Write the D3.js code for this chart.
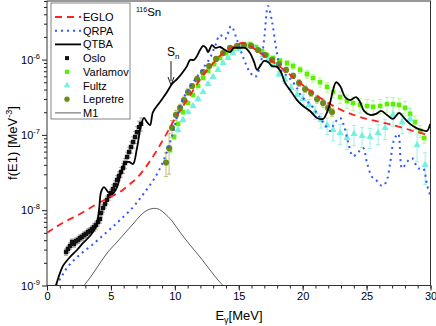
<!DOCTYPE html>
<html>
<head>
<meta charset="utf-8">
<script src="https://cdn.jsdelivr.net/npm/d3@7"></script>
<style>
  body { margin: 0; background: #fff; }
  svg { display: block; font-family: "Liberation Sans", Arial, sans-serif; }
</style>
</head>
<body>
<div id="chart"></div>
<script>
// theory curves (E in MeV, f in MeV^-3)
const egloE = [0, 1.25, 2.58, 3.91, 4.93, 5.71, 6.49, 7.04, 8.06, 9.08, 10.0, 10.95, 11.97, 12.75, 13.77, 14.55, 15.26, 15.88, 16.67, 18.23, 19.8, 20.81, 22.69, 24.49, 27.07, 29.73, 30];
const egloF = [5.0e-9, 6.8e-9, 8.9e-9, 1.21e-8, 1.5e-8, 1.75e-8, 2.23e-8, 2.68e-8, 4.5e-8, 8.6e-8, 1.63e-7, 2.9e-7, 5.4e-7, 8.0e-7, 1.22e-6, 1.47e-6, 1.66e-6, 1.52e-6, 1.22e-6, 8.0e-7, 4.9e-7, 3.6e-7, 2.28e-7, 1.73e-7, 1.35e-7, 1.0e-7, 9.8e-8];

const qrpaE = [0.7, 1.17, 1.56, 2.19, 2.82, 3.52, 4.15, 4.93, 5.71, 6.73, 7.43, 8.06, 8.61, 9.08, 9.47, 9.86, 10.17, 10.56, 11.03, 11.5, 12.21, 12.75, 13.15, 13.54, 13.93, 14.4, 14.87, 15.34, 15.88, 16.28, 16.67, 16.98, 17.29, 17.61, 17.92, 18.31, 18.86, 19.41, 19.95, 20.58, 21.21, 21.75, 22.14, 22.54, 22.93, 23.24, 23.55, 23.94, 24.34, 24.73, 25.04, 25.43, 25.82, 26.21, 26.53, 26.84, 27.15, 27.47, 27.78, 28.17, 28.56, 29.03, 29.42, 29.73, 29.97];
const qrpaF = [1.0e-9, 1.34e-9, 1.71e-9, 2.25e-9, 2.79e-9, 3.45e-9, 4.28e-9, 5.6e-9, 7.4e-9, 1.1e-8, 1.55e-8, 2.16e-8, 3.03e-8, 4.4e-8, 6.7e-8, 1.06e-7, 1.73e-7, 2.82e-7, 3.95e-7, 5.2e-7, 7.7e-7, 1.05e-6, 1.52e-6, 2.12e-6, 1.88e-6, 2.79e-6, 1.82e-6, 1.08e-6, 6.8e-7, 5.9e-7, 8.2e-7, 1.82e-6, 5.15e-6, 3.16e-6, 1.43e-6, 7.3e-7, 5.9e-7, 4.6e-7, 3.18e-7, 2.57e-7, 1.84e-7, 1.35e-7, 1.13e-7, 1.48e-7, 1.68e-7, 1.31e-7, 8.1e-8, 5.2e-8, 5.9e-8, 6.7e-8, 4.2e-8, 2.76e-8, 2.44e-8, 2.1e-8, 2.36e-8, 4.2e-8, 8.6e-8, 1.03e-7, 3.6e-8, 4.4e-8, 4.9e-8, 3.6e-8, 3.6e-8, 2.16e-8, 1.59e-8];

const qtbaE = [0.7, 1.02, 1.25, 1.8, 2.35, 2.82, 3.36, 3.83, 4.07, 4.23, 4.46, 4.77, 5.09, 5.48, 5.79, 6.1, 6.42, 6.73, 7.04, 7.36, 7.59, 7.82, 8.06, 8.29, 8.84, 9.39, 9.78, 10.17, 10.56, 10.95, 11.19, 11.5, 11.74, 11.97, 12.21, 12.44, 12.6, 12.91, 13.15, 13.54, 13.93, 14.32, 14.63, 15.1, 15.49, 15.88, 16.2, 16.43, 16.67, 16.98, 17.29, 17.61, 18.0, 18.31, 18.62, 19.01, 19.56, 20.03, 20.58, 21.13, 21.6, 21.91, 22.14, 22.38, 22.61, 22.93, 23.32, 23.71, 24.18, 24.49, 24.8, 25.27, 25.74, 26.14, 26.6, 27.07, 27.54, 27.93, 28.4, 28.87, 29.34, 29.73, 29.97];
const qtbaF = [1.0e-9, 1.47e-9, 1.82e-9, 2.39e-9, 2.96e-9, 3.67e-9, 4.54e-9, 5.98e-9, 1.01e-8, 1.75e-8, 2.03e-8, 1.75e-8, 1.64e-8, 2.03e-8, 3.12e-8, 4.24e-8, 4.37e-8, 4.11e-8, 6.7e-8, 1.35e-7, 1.68e-7, 1.48e-7, 1.35e-7, 2.01e-7, 2.73e-7, 3.71e-7, 4.74e-7, 5.5e-7, 6.6e-7, 8.2e-7, 9.9e-7, 9.9e-7, 1.12e-6, 1.34e-6, 1.52e-6, 1.43e-6, 1.26e-6, 1.56e-6, 1.43e-6, 1.47e-6, 1.34e-6, 1.26e-6, 1.43e-6, 1.43e-6, 1.43e-6, 1.22e-6, 9.3e-7, 7.3e-7, 8.2e-7, 9.6e-7, 9.3e-7, 8.2e-7, 8.0e-7, 6.8e-7, 4.9e-7, 3.95e-7, 2.9e-7, 2.42e-7, 2.08e-7, 1.68e-7, 1.63e-7, 2.01e-7, 2.65e-7, 3.95e-7, 5.0e-7, 4.46e-7, 3.18e-7, 2.9e-7, 3.18e-7, 2.73e-7, 2.08e-7, 1.84e-7, 1.9e-7, 2.08e-7, 1.84e-7, 1.63e-7, 1.96e-7, 1.68e-7, 1.4e-7, 1.24e-7, 1.16e-7, 1.13e-7, 1.4e-7];

const m1E = [2.9, 3.52, 4.15, 4.77, 5.48, 6.1, 6.73, 7.28, 7.75, 8.22, 8.69, 9.16, 9.78, 10.41, 11.19, 11.97, 12.75, 13.38, 13.77];
const m1F = [1.0e-9, 1.38e-9, 1.99e-9, 2.79e-9, 3.78e-9, 4.98e-9, 6.56e-9, 8.4e-9, 9.8e-9, 1.05e-8, 1.04e-8, 9.2e-9, 7.2e-9, 5.1e-9, 3.45e-9, 2.39e-9, 1.61e-9, 1.18e-9, 1.0e-9];

// experimental data (err = relative uncertainty)
const osloE = [1.49, 1.64, 1.8, 1.96, 2.11, 2.27, 2.43, 2.58, 2.74, 2.9, 3.05, 3.21, 3.36, 3.52, 3.68, 3.83, 3.99, 4.15, 4.23, 4.38, 4.54, 4.69, 4.85, 5.01, 5.16, 5.32, 5.48, 5.63, 5.79, 5.95, 6.1, 6.26, 6.42, 6.57, 6.73, 6.89, 7.04, 7.2, 7.36];
const osloF = [2.79e-9, 3.05e-9, 3.35e-9, 3.78e-9, 3.56e-9, 3.9e-9, 4.02e-9, 4.28e-9, 4.41e-9, 4.69e-9, 4.83e-9, 5.13e-9, 5.29e-9, 5.63e-9, 5.98e-9, 6.36e-9, 6.97e-9, 7.64e-9, 9.18e-9, 1.07e-8, 1.21e-8, 1.37e-8, 1.54e-8, 1.69e-8, 1.91e-8, 2.16e-8, 2.52e-8, 2.85e-8, 3.22e-8, 3.63e-8, 4.24e-8, 5.09e-8, 5.93e-8, 6.91e-8, 8.05e-8, 9.38e-8, 1.09e-7, 1.27e-7, 1.4e-7];
const osloErr = [0.1, 0.1, 0.1, 0.1, 0.1, 0.1, 0.1, 0.1, 0.1, 0.1, 0.1, 0.1, 0.1, 0.1, 0.12, 0.12, 0.12, 0.12, 0.12, 0.12, 0.12, 0.12, 0.12, 0.12, 0.14, 0.14, 0.14, 0.14, 0.15, 0.15, 0.15, 0.16, 0.16, 0.17, 0.17, 0.18, 0.18, 0.2, 0.2];

const varlE = [9.62, 9.94, 10.25, 10.64, 11.03, 11.42, 11.82, 12.21, 12.6, 13.07, 13.54, 14.01, 14.48, 14.95, 15.41, 15.88, 16.35, 16.82, 17.21, 17.68, 18.23, 18.78, 19.25, 19.8, 20.34, 20.81, 21.36, 21.91, 22.38, 22.93, 23.47, 23.94, 24.49, 25.04, 25.51, 26.06, 26.6, 27.07, 27.54, 28.01, 28.4, 28.79, 29.19, 29.5];
const varlF = [6.3e-8, 9.4e-8, 1.4e-7, 2.01e-7, 2.65e-7, 3.39e-7, 4.46e-7, 5.7e-7, 7.06e-7, 8.7e-7, 1.05e-6, 1.22e-6, 1.38e-6, 1.52e-6, 1.61e-6, 1.61e-6, 1.47e-6, 1.3e-6, 1.15e-6, 1.05e-6, 9.6e-7, 9.0e-7, 8.2e-7, 7.3e-7, 6.4e-7, 5.7e-7, 5.0e-7, 4.33e-7, 3.71e-7, 3.18e-7, 2.82e-7, 2.65e-7, 2.5e-7, 2.42e-7, 2.35e-7, 2.42e-7, 2.57e-7, 2.57e-7, 2.5e-7, 2.28e-7, 1.9e-7, 1.48e-7, 1.13e-7, 9.1e-8];
const varlErr = [0.08, 0.06, 0.05, 0.05, 0.04, 0.04, 0.04, 0.04, 0.04, 0.04, 0.04, 0.04, 0.04, 0.04, 0.04, 0.04, 0.05, 0.05, 0.06, 0.06, 0.08, 0.08, 0.1, 0.1, 0.12, 0.12, 0.14, 0.15, 0.16, 0.18, 0.2, 0.2, 0.22, 0.22, 0.22, 0.22, 0.22, 0.22, 0.22, 0.22, 0.2, 0.2, 0.18, 0.15];

const fultzE = [10.25, 10.64, 11.03, 11.42, 11.82, 12.21, 12.6, 12.99, 13.38, 13.77, 14.16, 14.55, 14.95, 15.34, 15.73, 16.12, 16.51, 16.9, 17.29, 17.68, 18.15, 18.62, 19.09, 19.56, 20.03, 20.5, 20.97, 21.44, 21.91, 22.38, 22.93, 23.47, 24.02, 24.65, 25.27, 25.9, 26.45, 27.07, 27.78, 28.4, 28.95, 29.58];
const fultzF = [1.16e-7, 1.58e-7, 2.01e-7, 2.42e-7, 3.0e-7, 3.71e-7, 4.74e-7, 5.9e-7, 7.3e-7, 9.0e-7, 1.05e-6, 1.22e-6, 1.38e-6, 1.47e-6, 1.52e-6, 1.47e-6, 1.34e-6, 1.15e-6, 9.9e-7, 8.5e-7, 6.4e-7, 5.4e-7, 4.2e-7, 3.39e-7, 3.0e-7, 2.5e-7, 2.01e-7, 1.58e-7, 1.35e-7, 1.16e-7, 1.06e-7, 9.1e-8, 1.03e-7, 9.7e-8, 9.4e-8, 1.06e-7, 1.24e-7, 1.84e-7, 1.48e-7, 1.63e-7, 7.3e-8, 4.0e-8];
const fultzErr = [0.06, 0.06, 0.05, 0.05, 0.05, 0.05, 0.05, 0.05, 0.05, 0.05, 0.05, 0.05, 0.05, 0.05, 0.05, 0.05, 0.05, 0.06, 0.06, 0.07, 0.08, 0.1, 0.12, 0.14, 0.16, 0.18, 0.2, 0.22, 0.25, 0.28, 0.3, 0.3, 0.3, 0.3, 0.3, 0.3, 0.3, 0.3, 0.3, 0.35, 0.4, 0.45];

const lepE = [9.31, 9.55, 9.78, 10.09, 10.41, 10.72, 11.03, 11.35, 11.74, 12.21, 12.68, 13.23, 13.77, 14.32, 14.87, 15.41, 15.96, 16.51, 17.06, 17.61, 18.15, 18.7, 19.25, 19.72, 20.19, 20.66, 21.13, 21.6, 21.99, 22.3];
const lepF = [4.3e-8, 6.7e-8, 1.24e-7, 1.84e-7, 2.28e-7, 2.9e-7, 3.71e-7, 4.46e-7, 5.5e-7, 6.8e-7, 8.2e-7, 1.02e-6, 1.22e-6, 1.43e-6, 1.52e-6, 1.56e-6, 1.52e-6, 1.34e-6, 1.15e-6, 9.9e-7, 8.7e-7, 7.3e-7, 6.1e-7, 4.9e-7, 4.07e-7, 3.6e-7, 3.0e-7, 2.65e-7, 2.28e-7, 2.01e-7];
const lepErr = [0.35, 0.55, 0.25, 0.15, 0.12, 0.1, 0.1, 0.08, 0.08, 0.08, 0.06, 0.06, 0.05, 0.05, 0.05, 0.05, 0.05, 0.05, 0.06, 0.06, 0.08, 0.08, 0.08, 0.1, 0.1, 0.1, 0.12, 0.12, 0.12, 0.12];

const xTicks = [0, 5, 10, 15, 20, 25, 30];
const yTicks = [1e-9, 1e-8, 1e-7, 1e-6];
const yTickExp = ["-9", "-8", "-7", "-6"];

const w = 436;
const h = 326;
const mLeft = 47, mRight = 430.5, mTop = 1, mBottom = 285.5;

const svg = d3.select("#chart").append("svg").attr("width", w).attr("height", h);

const x = d3.scaleLinear().domain([0, 30]).range([mLeft, mRight]);
const y = d3.scaleLog().domain([1e-9, 6e-6]).range([mBottom, mTop]);

svg.append("defs").append("clipPath").attr("id", "plot")
  .append("rect").attr("x", mLeft).attr("y", mTop).attr("width", mRight - mLeft).attr("height", mBottom - mTop);

// axes
const xAxis = svg.append("g").attr("transform", `translate(0,${mBottom})`)
  .call(d3.axisBottom(x).tickValues(xTicks).tickSize(5).tickSizeOuter(0).tickPadding(2));
svg.append("g").attr("transform", `translate(0,${mBottom})`)
  .call(d3.axisBottom(x).tickValues(d3.range(0, 31, 1)).tickSize(3).tickFormat(""));
xAxis.selectAll("text").attr("font-size", 11).attr("font-family", "Liberation Sans, Arial, sans-serif").attr("fill", "#000");

const minorY = [];
for (let p = -9; p <= -6; p++) {
  for (let k = 2; k <= 9; k++) {
    const v = k * Math.pow(10, p);
    if (v <= 6e-6) minorY.push(v);
  }
}
svg.append("g").attr("transform", `translate(${mLeft},0)`)
  .call(d3.axisLeft(y).tickValues(yTicks).tickSize(5).tickSizeOuter(0).tickFormat(""));
svg.append("g").attr("transform", `translate(${mLeft},0)`)
  .call(d3.axisLeft(y).tickValues(minorY).tickSize(3).tickSizeOuter(0).tickFormat(""));
svg.selectAll(".domain").remove();
svg.selectAll(".tick line").attr("stroke", "#222");

const yLab = svg.append("g").selectAll("text").data(yTicks).enter().append("text")
  .attr("x", 40).attr("y", (d) => y(d) + 4)
  .attr("text-anchor", "end").attr("font-size", 11);
yLab.append("tspan").text("10");
yLab.append("tspan").attr("dy", -5).attr("font-size", 7.5).text((d, i) => yTickExp[i]);

// frame
svg.append("rect").attr("x", mLeft).attr("y", mTop).attr("width", mRight - mLeft).attr("height", mBottom - mTop)
  .attr("fill", "none").attr("stroke", "#333").attr("stroke-width", 1);

// axis titles
const xt = svg.append("text").attr("x", 239).attr("y", 320).attr("text-anchor", "middle").attr("font-size", 13);
xt.append("tspan").text("E");
xt.append("tspan").attr("dy", 3).attr("font-size", 9).text("γ");
xt.append("tspan").attr("dy", -3).text("[MeV]");

const yt = svg.append("text").attr("transform", "translate(17,143) rotate(-90)").attr("text-anchor", "middle").attr("font-size", 13);
yt.append("tspan").text("f(E1) [MeV");
yt.append("tspan").attr("dy", -5).attr("font-size", 9).text("-3");
yt.append("tspan").attr("dy", 5).text("]");

const plot = svg.append("g").attr("clip-path", "url(#plot)");

function errBars(E, F, err, color) {
  const g = plot.append("g").attr("stroke", color).attr("stroke-width", 0.9).attr("fill", "none");
  E.forEach((e, i) => {
    const y0 = y(F[i] * (1 + err[i]));
    const y1 = y(F[i] * (1 - err[i]));
    const cx = x(e);
    g.append("line").attr("x1", cx).attr("x2", cx).attr("y1", y0).attr("y2", y1);
    g.append("line").attr("x1", cx - 2).attr("x2", cx + 2).attr("y1", y0).attr("y2", y0);
    g.append("line").attr("x1", cx - 2).attr("x2", cx + 2).attr("y1", y1).attr("y2", y1);
  });
}

const sq = d3.symbol().type(d3.symbolSquare);
const tri = d3.symbol().type(d3.symbolTriangle);
const circ = d3.symbol().type(d3.symbolCircle);

function points(E, F, sym, size, color) {
  plot.append("g").selectAll("path").data(E).enter().append("path")
    .attr("d", sym.size(size)())
    .attr("transform", (d, i) => `translate(${x(d)},${y(F[i])})`)
    .attr("fill", color);
}

errBars(varlE, varlF, varlErr, "#b2f79a");
errBars(fultzE, fultzF, fultzErr, "#8ff0e0");
points(varlE, varlF, sq, 22, "#5cf000");
points(fultzE, fultzF, tri, 22, "#72f2dc");
errBars(lepE, lepF, lepErr, "#b8b868");
points(lepE, lepF, circ, 30, "#6b8a1e");
errBars(osloE, osloF, osloErr, "#a0a0a0");
points(osloE, osloF, sq, 19, "#111");

function curve(E, F, color, width, dash) {
  const line = d3.line().x((d) => x(d)).y((d, i) => y(F[i])).curve(d3.curveCatmullRom);
  plot.append("path").datum(E).attr("d", line)
    .attr("fill", "none").attr("stroke", color).attr("stroke-width", width)
    .attr("stroke-dasharray", dash);
}

curve(m1E, m1F, "#333", 0.8, null);
curve(egloE, egloF, "#ff2020", 1.8, "7,5");
curve(qrpaE, qrpaF, "#3355ff", 2, "2,4");
curve(qtbaE, qtbaF, "#000", 1.8, null);

// annotations
const sn = svg.append("text").attr("x", 136).attr("y", 16).attr("font-size", 11.5);
sn.append("tspan").attr("font-size", 7).attr("dy", -4).text("116");
sn.append("tspan").attr("dy", 4).text("Sn");

const snLab = svg.append("text").attr("x", 167).attr("y", 56).attr("font-size", 12);
snLab.append("tspan").text("S");
snLab.append("tspan").attr("dy", 3).attr("font-size", 8).text("n");
svg.append("line").attr("x1", 171).attr("x2", 171).attr("y1", 61).attr("y2", 81)
  .attr("stroke", "#000").attr("stroke-width", 0.9);
svg.append("path").attr("d", "M168,77 L171,85 L174,77").attr("fill", "none").attr("stroke", "#000").attr("stroke-width", 0.9);

// legend
const legend = svg.append("g");
legend.append("rect").attr("x", 51).attr("y", 3).attr("width", 79).attr("height", 116)
  .attr("fill", "#fff").attr("stroke", "#666").attr("stroke-width", 0.8);
const items = [
  { name: "EGLO", kind: "line", color: "#ff2020", w: 1.8, dash: "7,5" },
  { name: "QRPA", kind: "line", color: "#3355ff", w: 2, dash: "2,4" },
  { name: "QTBA", kind: "line", color: "#000", w: 1.8, dash: null },
  { name: "Oslo", kind: "pt", sym: sq, size: 16, color: "#111" },
  { name: "Varlamov", kind: "pt", sym: sq, size: 18, color: "#5cf000" },
  { name: "Fultz", kind: "pt", sym: tri, size: 18, color: "#72f2dc" },
  { name: "Lepretre", kind: "pt", sym: circ, size: 22, color: "#6b8a1e" },
  { name: "M1", kind: "line", color: "#333", w: 0.8, dash: null },
];
items.forEach((it, i) => {
  const ly = 17 + i * 13.7;
  if (it.kind === "line") {
    legend.append("line").attr("x1", 55).attr("x2", 81).attr("y1", ly).attr("y2", ly)
      .attr("stroke", it.color).attr("stroke-width", it.w).attr("stroke-dasharray", it.dash);
  } else {
    legend.append("path").attr("d", it.sym.size(it.size)()).attr("transform", `translate(67,${ly})`).attr("fill", it.color);
  }
  legend.append("text").attr("x", 83).attr("y", ly + 4).attr("font-size", 11).text(it.name);
});
</script>
</body>
</html>
